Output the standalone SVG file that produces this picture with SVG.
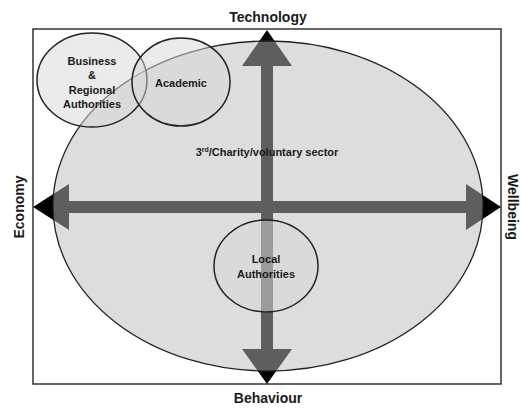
<svg xmlns="http://www.w3.org/2000/svg" width="521" height="408" viewBox="0 0 521 408">
  <style>
    .lbl { font-family: "Liberation Sans", Arial, sans-serif; font-weight: bold; fill: #1a1a1a; text-anchor: middle; }
    .axis { font-size: 14px; }
    .node { font-size: 11px; }
    .zone { fill: #bbbbbb; fill-opacity: 0.5; stroke: #222; stroke-width: 1.3; }
    .set { fill: #d8d8d8; fill-opacity: 0.5; stroke: #222; stroke-width: 1.5; }
    .arrow { fill: #000; }
  </style>
  <rect x="0" y="0" width="521" height="408" fill="#ffffff"/>
  <rect x="33" y="29" width="468" height="355" fill="none" stroke="#333" stroke-width="1.5"/>

  <g id="connectors">
    <!-- horizontal double arrow: Economy <-> Wellbeing -->
    <polygon class="arrow" points="33,207 69,184 69,201 466,201 466,184 501,207 466,230 466,213 69,213 69,230"/>
    <!-- vertical double arrow: Technology <-> Behaviour -->
    <polygon class="arrow" points="267,30 292,66 273,66 273,349 292,349 267,384 242,349 261,349 261,66 242,66"/>
  </g>

  <g id="sector">
    <ellipse class="zone" cx="268" cy="206" rx="215" ry="165"/>
    <text class="lbl node" x="267" y="156">3<tspan font-size="7" dy="-4">rd</tspan><tspan dy="4">/Charity/voluntary sector</tspan></text>
  </g>

  <g id="business">
    <ellipse class="set" cx="92" cy="80" rx="55" ry="47"/>
    <text class="lbl node" x="92" y="65">Business</text>
    <text class="lbl node" x="92" y="79">&amp;</text>
    <text class="lbl node" x="92" y="94">Regional</text>
    <text class="lbl node" x="92" y="108">Authorities</text>
  </g>

  <g id="academic">
    <ellipse class="set" cx="181" cy="82" rx="49" ry="44"/>
    <text class="lbl node" x="181" y="87">Academic</text>
  </g>

  <g id="local">
    <ellipse class="set" cx="266" cy="266" rx="52" ry="46"/>
    <text class="lbl node" x="266" y="263">Local</text>
    <text class="lbl node" x="266" y="278">Authorities</text>
  </g>

  <g id="axes">
    <text class="lbl axis" x="268" y="22">Technology</text>
    <text class="lbl axis" x="268" y="403">Behaviour</text>
    <text class="lbl axis" transform="translate(24,207) rotate(-90)">Economy</text>
    <text class="lbl axis" transform="translate(508,207) rotate(90)">Wellbeing</text>
  </g>
</svg>
